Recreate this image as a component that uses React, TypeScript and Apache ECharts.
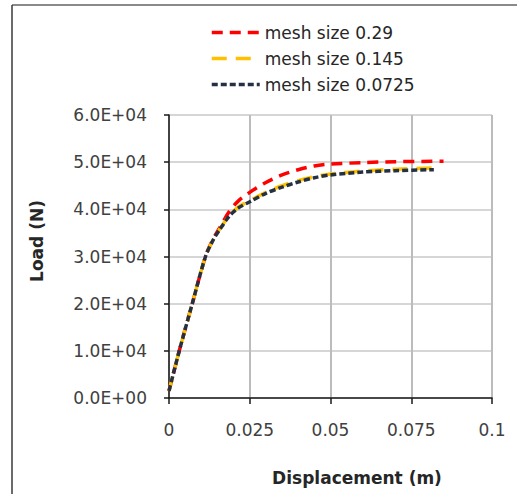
import React, { useEffect, useRef } from "react";
import * as echarts from "echarts";

// Load–displacement curves for three mesh sizes
const seriesNames = ["mesh size 0.29", "mesh size 0.145", "mesh size 0.0725"];

const disp029 = [0, 0.0031, 0.0072, 0.0113, 0.0135, 0.0156, 0.0187, 0.0215, 0.025, 0.03, 0.035, 0.04, 0.045, 0.05, 0.06, 0.07, 0.085];
const load029 = [1500, 9800, 20000, 30000, 33500, 36000, 39600, 41800, 43600, 45700, 47300, 48400, 49200, 49600, 49900, 50100, 50200];

const disp0145 = [0, 0.0031, 0.0072, 0.0113, 0.0135, 0.0156, 0.0187, 0.0215, 0.025, 0.03, 0.035, 0.04, 0.045, 0.05, 0.06, 0.07, 0.082];
const load0145 = [1500, 9800, 20000, 30000, 33300, 35700, 38700, 40500, 41800, 43600, 45000, 46100, 46900, 47500, 48100, 48500, 48800];

const disp00725 = [0, 0.0031, 0.0072, 0.0113, 0.0135, 0.0156, 0.0187, 0.0215, 0.025, 0.03, 0.035, 0.04, 0.045, 0.05, 0.06, 0.07, 0.082];
const load00725 = [1500, 9800, 20000, 30000, 33300, 35600, 38600, 40300, 41600, 43400, 44700, 45800, 46700, 47300, 47900, 48200, 48400];

const xTicks = { min: 0, max: 0.1, interval: 0.025 };
const yTicks = { min: 0, max: 60000, interval: 10000 };

const FONT = "DejaVu Sans";

function zip(xs: number[], ys: number[]) {
  return xs.map((x, i) => [x, ys[i]]);
}

function sci(v: number) {
  if (v === 0) return "0.0E+00";
  const e = Math.floor(Math.log10(Math.abs(v)));
  const m = v / Math.pow(10, e);
  const ae = Math.abs(e);
  return m.toFixed(1) + "E" + (e < 0 ? "-" : "+") + (ae < 10 ? "0" : "") + ae;
}

export default function App() {
  const ref = useRef<HTMLDivElement>(null);

  useEffect(() => {
    if (!ref.current) return;
    const chart = echarts.init(ref.current, undefined, { renderer: "svg" });

    const option = {
      animation: false,
      backgroundColor: "#ffffff",
      grid: { left: 169, right: 25, top: 115, bottom: 96, containLabel: false },
      legend: {
        orient: "vertical",
        left: 205,
        top: 19,
        itemWidth: 48,
        itemHeight: 14,
        itemGap: 9,
        data: seriesNames,
        // line-only legend keys: hide the marker drawn on top of the line
        itemStyle: { color: "rgba(0,0,0,0)", borderColor: "rgba(0,0,0,0)", borderWidth: 0 },
        lineStyle: { width: 3.5 },
        textStyle: { fontFamily: FONT, fontSize: 17, color: "#262626" },
      },
      xAxis: {
        type: "value",
        min: xTicks.min,
        max: xTicks.max,
        interval: xTicks.interval,
        axisLine: { onZero: false, lineStyle: { color: "#1a1a1a", width: 1.5 } },
        axisTick: { show: true, length: 6, lineStyle: { color: "#1a1a1a", width: 1.5 } },
        axisLabel: {
          margin: 23,
          fontFamily: FONT,
          fontSize: 17,
          color: "#404040",
          formatter: (v: number) => String(parseFloat(v.toFixed(4))),
        },
        splitLine: { show: true, lineStyle: { color: "#bcbcbc", width: 2 } },
      },
      yAxis: {
        type: "value",
        min: yTicks.min,
        max: yTicks.max,
        interval: yTicks.interval,
        axisLine: { show: true, onZero: false, lineStyle: { color: "#1a1a1a", width: 1.5 } },
        axisTick: { show: true, length: 5, lineStyle: { color: "#1a1a1a", width: 1.5 } },
        axisLabel: {
          margin: 22,
          fontFamily: FONT,
          fontSize: 17,
          color: "#404040",
          formatter: (v: number) => sci(v),
        },
        splitLine: { show: true, lineStyle: { color: "#d6d6d6", width: 2 } },
      },
      series: [
        {
          name: seriesNames[0],
          type: "line",
          data: zip(disp029, load029),
          symbol: "none",
          smooth: 0.3,
          color: "#ff0000",
          lineStyle: { color: "#ff0000", width: 3.5, type: [11, 7] },
          z: 2,
        },
        {
          name: seriesNames[1],
          type: "line",
          data: zip(disp0145, load0145),
          symbol: "none",
          smooth: 0.3,
          color: "#ffc000",
          lineStyle: { color: "#ffc000", width: 3.5, type: [15, 9] },
          z: 3,
        },
        {
          name: seriesNames[2],
          type: "line",
          data: zip(disp00725, load00725),
          symbol: "none",
          smooth: 0.3,
          color: "#253142",
          lineStyle: { color: "#253142", width: 3.5, type: [6, 3] },
          z: 4,
        },
      ],
      graphic: [
        {
          type: "line",
          shape: { x1: 12, y1: 5, x2: 517, y2: 5 },
          style: { stroke: "#8a8a8a", lineWidth: 2 },
        },
        {
          type: "line",
          shape: { x1: 12, y1: 5, x2: 12, y2: 494 },
          style: { stroke: "#3a3a3a", lineWidth: 1.5 },
        },
        {
          type: "text",
          x: 357,
          y: 478,
          style: {
            text: "Displacement (m)",
            font: `bold 17px "${FONT}"`,
            fill: "#262626",
            align: "center",
            verticalAlign: "middle",
          },
        },
        {
          type: "text",
          x: 37,
          y: 241,
          rotation: Math.PI / 2,
          style: {
            text: "Load (N)",
            font: `bold 17px "${FONT}"`,
            fill: "#262626",
            align: "center",
            verticalAlign: "middle",
          },
        },
      ],
    };

    chart.setOption(option as any);
    return () => chart.dispose();
  }, []);

  return (
    <div
      ref={ref}
      style={{ position: "fixed", left: 0, top: 0, width: 517, height: 494 }}
    />
  );
}
